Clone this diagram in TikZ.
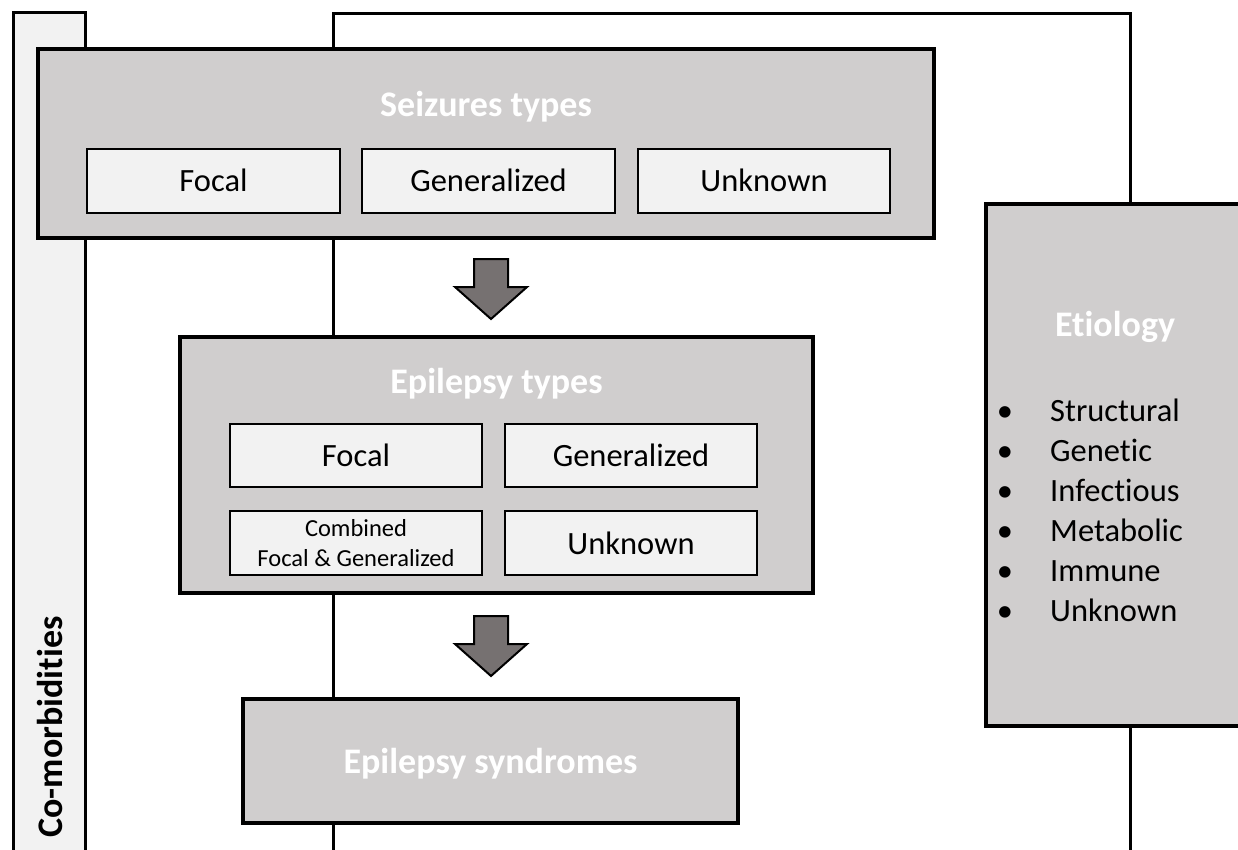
\documentclass[tikz,border=0pt]{standalone}
\usepackage{fontspec}
\setmainfont{Carlito}[Ligatures={NoCommon}]
\usetikzlibrary{fit}
\definecolor{boxgray}{HTML}{D0CECE}
\definecolor{lightgray}{HTML}{F2F2F2}
\definecolor{arrowgray}{HTML}{767171}
\tikzset{
  bigbox/.style={draw=black, line width=3.2pt, fill=boxgray, inner sep=0pt, outer sep=0pt, rectangle},
  smallbox/.style={draw=black, line width=2pt, fill=lightgray, inner sep=0pt, outer sep=0pt, rectangle},
  barbox/.style={draw=black, line width=3pt, fill=lightgray, inner sep=0pt, outer sep=0pt, rectangle},
  frameline/.style={draw=black, line width=3pt},
  blockarr/.style={draw=black, line width=2pt, fill=arrowgray, line join=miter},
  titletext/.style={text=white, font=\fontsize{36}{43}\selectfont\bfseries, anchor=base, inner sep=0pt},
  labeltext/.style={text=black, font=\fontsize{32.5}{40}\selectfont, anchor=base, inner sep=0pt},
  smalltext/.style={text=black, font=\fontsize{24.5}{30}\selectfont, align=center, inner sep=0pt},
  listtext/.style={text=black, font=\fontsize{32.5}{40}\selectfont, anchor=base west, inner sep=0pt},
  bullettext/.style={text=black, font=\fontsize{32.5}{40}\selectfont, anchor=base, inner sep=0pt},
  sidetext/.style={text=black, font=\fontsize{36}{43}\selectfont\bfseries, anchor=base, rotate=90, inner sep=0pt}
}
\begin{document}
\begin{tikzpicture}[x=1pt, y=-1pt]
\clip (0,0) rectangle (1238,850);
\fill[white] (0,0) rectangle (1238,850);

% outer frame
\coordinate (fl) at (333,860);
\coordinate (ftl) at (333,14);
\coordinate (ftr) at (1130,14);
\coordinate (fr) at (1130,860);
\draw[frameline] (fl) -- (ftl) -- (ftr) -- (fr);

% co-morbidities bar
\node[barbox, fit={(13,13) (85,870)}] (comorb) {};
\node[sidetext] (comorbt) at (62,727) {Co-morbidities};

% seizures types
\node[bigbox, fit={(38,49) (934,238)}] (seiz) {};
\node[titletext] (seizt) at (486,117) {Seizures types};
\node[smallbox, fit={(87,149) (340,213)}] (sfocal) {};
\node[labeltext] at (213.5,191.5) {Focal};
\node[smallbox, fit={(362,149) (615,213)}] (sgen) {};
\node[labeltext] at (488.5,191.5) {Generalized};
\node[smallbox, fit={(638,149) (890,213)}] (sunk) {};
\node[labeltext] at (764,191.5) {Unknown};

% arrow 1
\coordinate (a1) at (491,259);
\draw[blockarr] (a1) ++(-17,0) -- ++(34,0) -- ++(0,28) -- ++(19,0) -- ++(-36,32) -- ++(-36,-32) -- ++(19,0) -- cycle;

% epilepsy types
\node[bigbox, fit={(180,337) (813,593)}] (epi) {};
\node[titletext] (epit) at (496.5,393) {Epilepsy types};
\node[smallbox, fit={(230,424) (482,487)}] (efocal) {};
\node[labeltext] at (356,466) {Focal};
\node[smallbox, fit={(505,424) (757,487)}] (egen) {};
\node[labeltext] at (631,466) {Generalized};
\node[smallbox, fit={(230,511) (482,575)}] (ecomb) {};
\node[smalltext] at (356,543) {Combined\\Focal \& Generalized};
\node[smallbox, fit={(505,511) (757,575)}] (eunk) {};
\node[labeltext] at (631,554) {Unknown};

% arrow 2
\coordinate (a2) at (491,616);
\draw[blockarr] (a2) ++(-17,0) -- ++(34,0) -- ++(0,28) -- ++(19,0) -- ++(-36,32) -- ++(-36,-32) -- ++(19,0) -- cycle;

% epilepsy syndromes
\node[bigbox, fit={(243,699) (738,823)}] (synd) {};
\node[titletext] (syndt) at (490.5,773) {Epilepsy syndromes};

% etiology
\node[bigbox, fit={(986,204) (1250,726)}] (etio) {};
\node[titletext] (etiot) at (1115,336) {Etiology};
\foreach \t [count=\i] in {Structural,Genetic,Infectious,Metabolic,Immune,Unknown}{
  \node[bullettext] at (1005,{381+40*\i}) {\textbullet};
  \node[listtext] at (1050,{381+40*\i}) {\t};
}
\end{tikzpicture}
\end{document}
